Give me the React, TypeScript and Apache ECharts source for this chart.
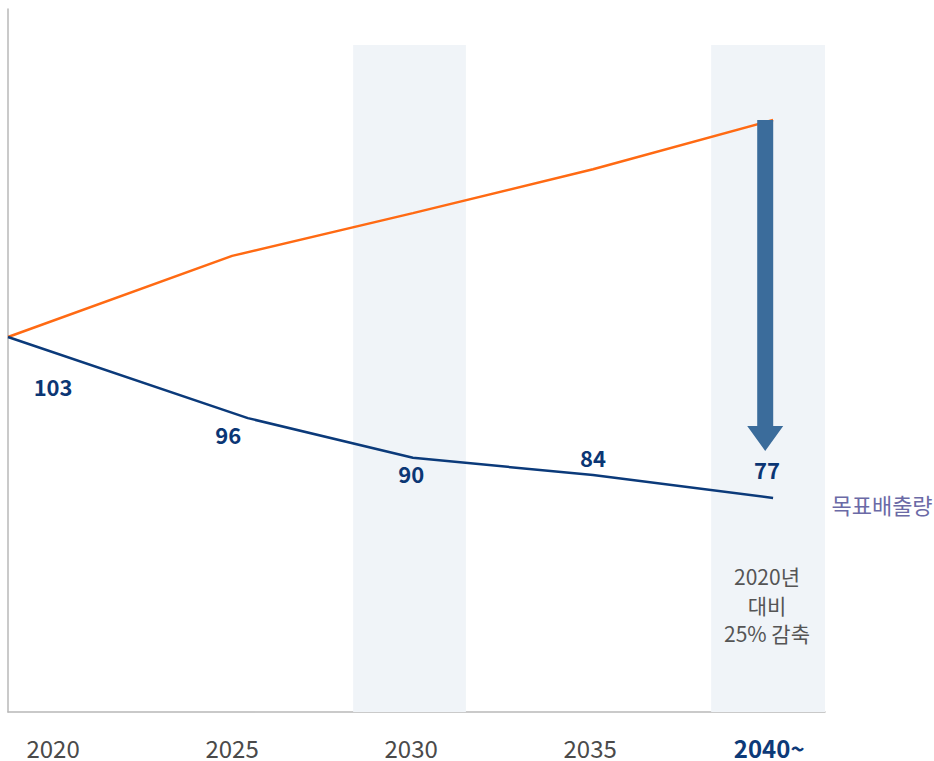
import React, { useEffect, useRef } from "react";
import * as echarts from "echarts";

// X-axis tick labels (years)
const tickYears = [2020, 2025, 2030, 2035, 2040];
// Business-as-usual (orange) path: years and plotted level (index, 2020 = 103)
const bauYears = [2018.74, 2025.0, 2030.05, 2035.08, 2040.11];
const bauLevel = [103, 116.1, 123.0, 130.1, 138.05];
// Target emission (blue) path
const targetYears = [2018.74, 2025.44, 2030.05, 2035.08, 2040.11];
const targetLevel = [103, 89.9, 83.5, 80.7, 77.0];
// Value labels shown on the target path
const targetLabels = ["103", "96", "90", "84", "77"];
const targetLabelYears = [2020.0, 2024.89, 2030.0, 2035.08, 2039.94];
const targetLabelLevels = [95.1, 87.3, 81.0, 83.6, 81.7];
// Highlight bands (years)
const bandRanges = [
  [2028.38, 2031.53],
  [2038.38, 2041.56],
];
// Reduction arrow: year, from level, to level
const arrowSpec = [[2039.89, 138.05, 84.6]];
// Annotation texts
const seriesName = "목표배출량";
const noteLines = ["2020년", "대비", "25% 감축"];

const X_MIN = 2018.74;
const X_MAX = 2041.56;
const Y_MIN = 42.44;
const Y_MAX = 155.97;
const BAND_TOP = 150.16;

const FONT = "'Noto Sans CJK KR', 'Noto Sans', sans-serif";

export default function App() {
  const ref = useRef<HTMLDivElement>(null);

  useEffect(() => {
    if (!ref.current) return;
    const chart = echarts.init(ref.current, null, { renderer: "svg" });

    const option: any = {
      animation: false,
      backgroundColor: "#ffffff",
      textStyle: { fontFamily: FONT },
      grid: { left: 8, right: 109, top: 9, bottom: 49, containLabel: false },
      xAxis: {
        type: "value",
        min: X_MIN,
        max: X_MAX,
        splitLine: { show: false },
        axisTick: { show: false },
        axisLine: { show: true, lineStyle: { color: "#b8b8b8", width: 1.5 } },
        axisLabel: {
          customValues: tickYears,
          margin: 23,
          fontSize: 24,
          lineHeight: 24,
          color: "#4a4a4a",
          fontFamily: FONT,
          formatter: (v: number) =>
            Math.round(v) === 2040 ? "{b|2040~}" : String(Math.round(v)),
          rich: {
            b: {
              fontSize: 24,
              lineHeight: 24,
              fontWeight: "bold",
              color: "#0d3a78",
              fontFamily: FONT,
            },
          },
        },
      },
      yAxis: {
        type: "value",
        min: Y_MIN,
        max: Y_MAX,
        splitLine: { show: false },
        axisTick: { show: false },
        axisLabel: { show: false },
        axisLine: { show: true, lineStyle: { color: "#b8b8b8", width: 1.5 } },
      },
      series: [
        {
          type: "line",
          name: "bands",
          data: [],
          silent: true,
          markArea: {
            silent: true,
            itemStyle: { color: "#f0f4f8" },
            data: bandRanges.map((r) => [
              { xAxis: r[0], yAxis: BAND_TOP },
              { xAxis: r[1], yAxis: Y_MIN },
            ]),
          },
        },
        {
          type: "line",
          name: "BAU",
          data: bauYears.map((x, i) => [x, bauLevel[i]]),
          showSymbol: false,
          symbol: "none",
          lineStyle: { color: "#ff6a13", width: 2.5 },
          z: 3,
        },
        {
          type: "line",
          name: seriesName,
          data: targetYears.map((x, i) => [x, targetLevel[i]]),
          showSymbol: false,
          symbol: "none",
          lineStyle: { color: "#0b3a7a", width: 2.5 },
          z: 4,
        },
        {
          type: "custom",
          name: "arrow",
          data: arrowSpec,
          z: 5,
          renderItem: (params: any, api: any) => {
            const top = api.coord([api.value(0), api.value(1)]);
            const tip = api.coord([api.value(0), api.value(2)]);
            const cx = top[0];
            const shaftHalf = 8;
            const headHalf = 18;
            const headLen = 25;
            const neck = tip[1] - headLen;
            return {
              type: "polygon",
              shape: {
                points: [
                  [cx - shaftHalf, top[1]],
                  [cx + shaftHalf, top[1]],
                  [cx + shaftHalf, neck],
                  [cx + headHalf, neck],
                  [cx, tip[1]],
                  [cx - headHalf, neck],
                  [cx - shaftHalf, neck],
                ],
              },
              style: { fill: "#3b6c9b" },
            };
          },
        },
        {
          type: "scatter",
          name: "labels",
          symbolSize: 0,
          silent: true,
          z: 6,
          itemStyle: { opacity: 1 },
          data: targetLabelYears.map((x, i) => [x, targetLabelLevels[i], targetLabels[i]]),
          label: {
            show: true,
            position: "inside",
            formatter: (p: any) => p.value[2],
            fontSize: 22,
            fontWeight: "bold",
            color: "#0b3674",
            opacity: 1,
            fontFamily: FONT,
          },
        },
      ],
      graphic: [
        {
          type: "text",
          x: 882,
          y: 504,
          z: 100,
          style: {
            text: seriesName,
            align: "center",
            verticalAlign: "middle",
            fontSize: 22,
            fill: "#6b6aa6",
            fontFamily: FONT,
          },
        },
        ...noteLines.map((t, i) => ({
          type: "text",
          x: 767,
          y: 576 + i * 28.5,
          z: 100,
          style: {
            text: t,
            align: "center",
            verticalAlign: "middle",
            fontSize: 21,
            fill: "#555555",
            fontFamily: FONT,
          },
        })),
      ],
    };

    chart.setOption(option);
    return () => chart.dispose();
  }, []);

  return (
    <div
      ref={ref}
      style={{ position: "fixed", left: 0, top: 0, width: 934, height: 761 }}
    />
  );
}
